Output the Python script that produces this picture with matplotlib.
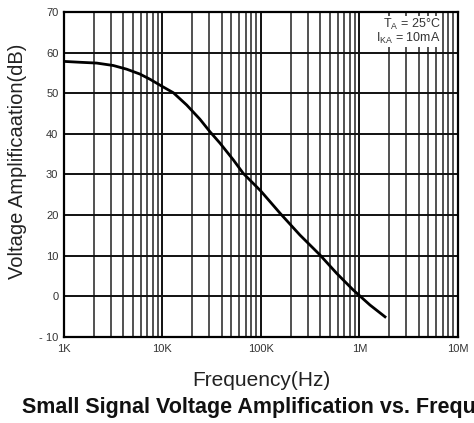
import numpy as np
import matplotlib
matplotlib.use("Agg")
import matplotlib.pyplot as plt
from matplotlib.ticker import FixedLocator, NullFormatter

plt.rcParams['font.family'] = ['Liberation Sans', 'DejaVu Sans']

# ================== DATA ==================
freq_hz = [1.02e3, 1.45e3, 2.15e3, 3.17e3, 4.33e3, 5.9e3, 7.5e3, 9.4e3,
           12.9e3, 17.6e3, 24e3, 30.4e3, 38.4e3, 52.4e3, 66e3, 100e3,
           156e3, 249e3, 398e3, 587e3, 865e3, 1.28e6, 1.82e6]
gain_db = [57.8, 57.6, 57.4, 56.8, 55.9, 54.7, 53.4, 52.0,
           50.1, 47.1, 43.6, 40.5, 37.7, 33.6, 30.3, 25.9,
           20.5, 15.1, 10.2, 5.7, 1.6, -2.1, -5.0]

y_ticks = [-10, 0, 10, 20, 30, 40, 50, 60, 70]
y_tick_labels = ["- 10", "0", "10", "20", "30", "40", "50", "60", "70"]
x_ticks = [1e3, 1e4, 1e5, 1e6, 1e7]
x_tick_labels = ["1K", "10K", "100K", "1M", "10M"]

# ================== PLOT ==================
fig = plt.figure(figsize=(4.74, 4.23), dpi=100)
ax = fig.add_axes([0.135, 0.203, 0.831, 0.769])

ax.set_xscale("log")
ax.set_xlim(1e3, 1e7)
ax.set_ylim(-10, 70)

# grid: horizontal every 10 dB, vertical at every 1..9 per decade
minor = [m * 10 ** e for e in range(3, 7) for m in range(2, 10)]
ax.xaxis.set_major_locator(FixedLocator(x_ticks))
ax.xaxis.set_minor_locator(FixedLocator(minor))
ax.xaxis.set_minor_formatter(NullFormatter())
ax.set_xticklabels(x_tick_labels)
ax.set_yticks(y_ticks)
ax.set_yticklabels(y_tick_labels)

ax.grid(True, which="major", color="#111111", linewidth=1.4)
ax.grid(True, which="minor", axis="x", color="#222222", linewidth=1.1)

ax.plot(freq_hz, gain_db, color="black", linewidth=2.0, zorder=3,
        solid_joinstyle="round")

for s in ax.spines.values():
    s.set_linewidth(1.6)
    s.set_color("black")

ax.tick_params(axis="both", which="both", length=0, labelsize=8,
               labelcolor="#333333")
ax.tick_params(axis="x", pad=5)
ax.tick_params(axis="y", pad=4)

ax.text(0.955, 0.985, "T$_\\mathregular{A}$ = 25°C\nI$_\\mathregular{KA}$ = 10mA",
        transform=ax.transAxes, ha="right", va="top", fontsize=9,
        color="#333333", linespacing=0.95,
        bbox=dict(facecolor="white", edgecolor="none", pad=0.8), zorder=4)

ax.set_ylabel("Voltage Amplificaation(dB)", fontsize=14.5, color="#222222")
ax.yaxis.set_label_coords(-0.094, 0.54)
ax.set_xlabel("Frequency(Hz)", fontsize=15, color="#222222", labelpad=12)

# title is cut at the right edge, as in the scanned original
fig.text(0.046, 0.012, "Small Signal Voltage Amplification vs. Frequency",
         fontsize=15.5, fontweight="bold", ha="left", va="bottom",
         color="#111111")

fig.savefig("out.png", dpi=100)
